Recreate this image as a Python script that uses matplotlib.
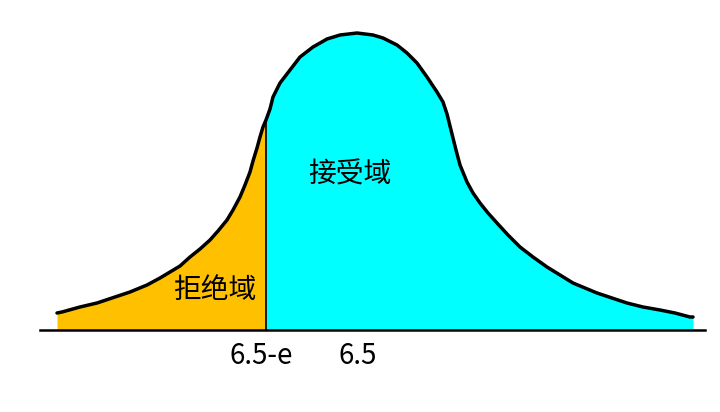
import numpy as np
import matplotlib
matplotlib.use("Agg")
import matplotlib.pyplot as plt

plt.rcParams["font.family"] = ["Noto Sans CJK SC", "DejaVu Sans"]

# Curve outline: horizontal position and height above baseline
curve_x = [57, 62, 80, 97, 115, 130, 147, 160, 170, 180, 190, 200, 210, 218,
           227, 233, 240, 245, 250, 253, 257, 260, 263, 266, 270, 273, 280,
           290, 300, 313, 327, 340, 357, 373, 383, 397, 407, 417, 427, 437,
           443, 447, 452, 456, 460, 467, 473, 480, 488, 497, 508, 520, 533,
           547, 560, 573, 585, 597, 612, 627, 643, 660, 675, 690, 693]
curve_h = [17, 18, 23, 27, 33, 38, 45, 52, 58, 64, 73, 81, 90, 99,
           110, 120, 133, 145, 158, 169, 182, 193, 203, 210, 221, 233, 247,
           260, 273, 283, 291, 295, 297, 295, 292, 285, 277, 267, 253, 238,
           228, 216, 196, 180, 165, 148, 137, 127, 117, 107, 95, 83, 73,
           63, 55, 47, 42, 37, 32, 27, 23, 20, 17, 13, 13]

cut_x = 266          # 6.5-e
reject_label = "拒绝域"
accept_label = "接受域"
tick_labels = ["6.5-e", "6.5"]
tick_pos = [261, 358]

ORANGE = "#FFC000"
CYAN = "#00FFFF"

x = np.array(curve_x, dtype=float)
h = np.array(curve_h, dtype=float)

fig = plt.figure(figsize=(7.2, 4.12), dpi=100)
ax = fig.add_axes([0, 0, 1, 1])
ax.set_xlim(0, 720)
ax.set_ylim(-82, 330)
ax.set_axis_off()

left = x <= cut_x
right = x >= cut_x
ax.fill_between(x[left], 0, h[left], color=ORANGE, lw=0)
ax.fill_between(x[right], 0, h[right], color=CYAN, lw=0)

# outline and the cut line
ax.plot(x, h, color="black", lw=2.5, solid_joinstyle="round", solid_capstyle="round")
ax.plot([cut_x, cut_x], [0, np.interp(cut_x, x, h)], color="black", lw=1.2)
ax.plot([40, 705], [0, 0], color="black", lw=1.8)

ax.text(215, 40, reject_label, fontsize=20, fontweight="medium", ha="center", va="center")
ax.text(350, 155, accept_label, fontsize=20, fontweight="medium", ha="center", va="center")
for lbl, px in zip(tick_labels, tick_pos):
    ax.text(px, -26, lbl, fontsize=20, fontweight="medium", ha="center", va="center")

fig.savefig("out.png", dpi=100)
